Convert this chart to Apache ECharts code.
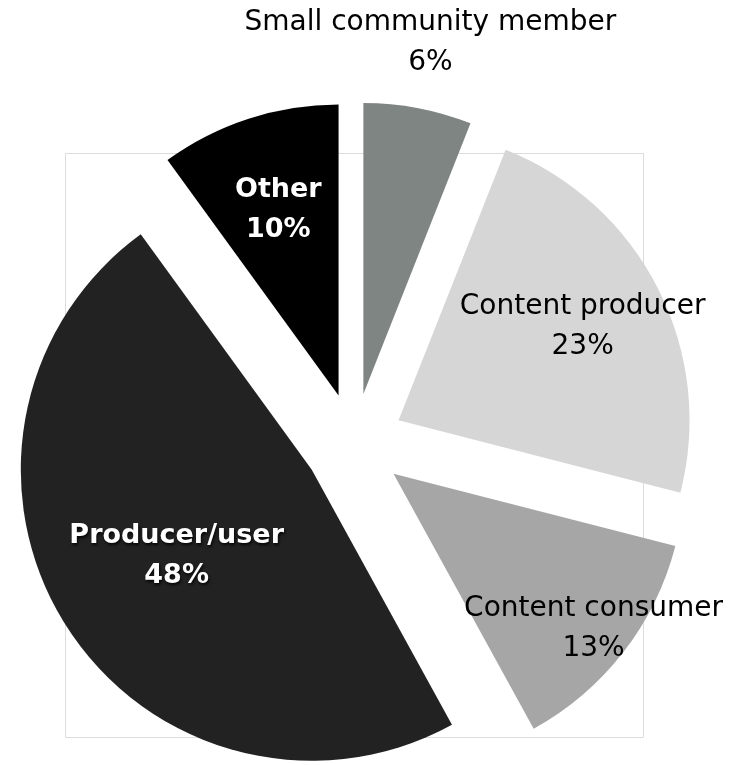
<!DOCTYPE html>
<html>
<head>
<meta charset="utf-8">
<script src="https://cdn.jsdelivr.net/npm/echarts@6/dist/echarts.min.js"></script>
<style>
  html, body { margin: 0; padding: 0; background: #ffffff; }
  #chart { width: 733px; height: 765px; }
</style>
</head>
<body>
<div id="chart"></div>
<script>
// Survey shares by role (percent)
const categories = ['Small community member', 'Content producer', 'Content consumer', 'Producer/user', 'Other'];
const shares = [6, 23, 13, 48, 10];

// Per-slice styling
const sliceColors = ['#7f8583', '#d6d6d6', '#a6a6a6', '#222222', '#000000'];
const labelColors = ['#000000', '#000000', '#000000', '#ffffff', '#ffffff'];
const labelBold = [false, false, false, true, true];
// label distance from the (exploded) slice centre, as a fraction of the radius
const labelRadius = [1.23, 0.71, 0.87, 0.55, 0.67];

const CENTER = [354, 443];
const RADIUS = 291;
const EXPLODE = 50;

const total = shares.reduce((a, b) => a + b, 0);
function midAngle(i) {
  let before = 0;
  for (let k = 0; k < i; k++) before += shares[k];
  return (before + shares[i] / 2) / total * 2 * Math.PI;
}

const chart = echarts.init(document.getElementById('chart'), null, { renderer: 'canvas' });

// exploded slices
const sliceData = categories.map((name, i) => ({
  name: name,
  value: shares[i],
  selected: true,
  itemStyle: { color: sliceColors[i] }
}));

// same values, invisible sectors, carrying the slice labels
const labelData = categories.map((name, i) => ({
  name: name,
  value: shares[i],
  itemStyle: { color: 'rgba(0,0,0,0)' },
  label: {
    color: labelColors[i],
    fontWeight: labelBold[i] ? 'bold' : 'normal',
    fontSize: labelBold[i] ? 27 : 28,
    textShadowColor: labelBold[i] ? 'rgba(0,0,0,0.85)' : 'transparent',
    textShadowBlur: labelBold[i] ? 3 : 0,
    textShadowOffsetX: labelBold[i] ? 1 : 0,
    textShadowOffsetY: labelBold[i] ? 2 : 0
  }
}));

chart.setOption({
  animation: false,
  backgroundColor: '#ffffff',
  graphic: [{
    type: 'rect',
    z: -10,
    silent: true,
    shape: { x: 65.5, y: 153.5, width: 578, height: 584 },
    style: { fill: 'none', stroke: '#dcdcdc', lineWidth: 1 }
  }],
  series: [{
    type: 'pie',
    center: CENTER,
    radius: [0, RADIUS],
    startAngle: 90,
    clockwise: true,
    selectedMode: 'multiple',
    selectedOffset: EXPLODE,
    itemStyle: { borderWidth: 0 },
    select: { itemStyle: { borderWidth: 0 } },
    emphasis: { disabled: true },
    label: { show: false },
    labelLine: { show: false },
    data: sliceData
  }, {
    type: 'pie',
    silent: true,
    center: CENTER,
    radius: [0, RADIUS],
    startAngle: 90,
    clockwise: true,
    avoidLabelOverlap: false,
    emphasis: { disabled: true },
    label: {
      show: true,
      position: 'inside',
      fontFamily: 'DejaVu Sans',
      lineHeight: 40,
      align: 'center',
      formatter: p => p.name + '\n' + p.value + '%'
    },
    labelLine: { show: false },
    labelLayout: function (params) {
      const i = params.dataIndex;
      const a = midAngle(i);
      const rr = EXPLODE + labelRadius[i] * RADIUS;
      return {
        x: CENTER[0] + rr * Math.sin(a),
        y: CENTER[1] - rr * Math.cos(a),
        align: 'center',
        verticalAlign: 'middle'
      };
    },
    data: labelData
  }]
});
</script>
</body>
</html>
